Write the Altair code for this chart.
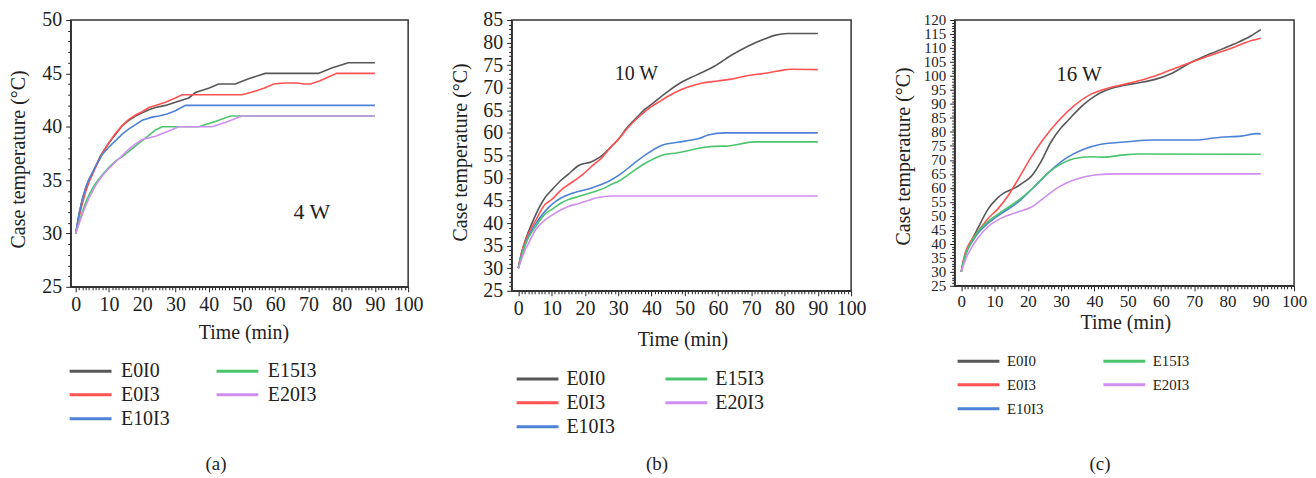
import altair as alt
import pandas as pd

FONT = "Liberation Serif"
TXT = "#222222"

LEGEND_ORDER = ["E0I0", "E0I3", "E10I3", "E15I3", "E20I3"]
LINE_COLORS = ["#575757", "#ff5252", "#4d82d6", "#4cc46e", "#cf8ef0"]
X_TITLE = "Time (min)"
Y_TITLE = "Case temperature (°C)"

# ---------------- panel (a): 4 W ----------------
A_E0I0_T = [0, 1, 2, 3, 4, 5, 6, 7.5, 10, 12, 14, 16, 18, 20, 22, 24, 27, 30, 34, 36, 40, 43, 48, 52, 57, 73, 77, 82, 90]
A_E0I0_V = [30, 31.8, 33.2, 34.2, 35.0, 35.6, 36.3, 37.3, 38.5, 39.3, 40.1, 40.6, 41.0, 41.3, 41.6, 41.8, 42.0, 42.3, 42.7, 43.2, 43.6, 44, 44, 44.5, 45, 45, 45.5, 46, 46]
A_E0I3_T = [0, 1, 2, 3, 4, 5, 6, 8, 10, 12, 14, 16, 18, 20, 22, 24, 27, 30, 32, 50, 52.6, 56.6, 59.6, 62.6, 66.6, 68.6, 70.6, 73.5, 78.5, 90]
A_E0I3_V = [30, 31.5, 32.8, 33.9, 34.8, 35.5, 36.2, 37.5, 38.5, 39.4, 40.1, 40.7, 41.1, 41.4, 41.8, 42.0, 42.3, 42.7, 43.0, 43.0, 43.2, 43.6, 44, 44.1, 44.1, 44, 44, 44.3, 45, 45]
A_E10I3_T = [0, 1, 2, 3, 4, 5, 6, 8, 10, 12, 14, 16, 18, 20, 23, 25, 27.5, 30, 33, 90]
A_E10I3_V = [30, 31.8, 33.2, 34.3, 35.1, 35.7, 36.3, 37.4, 38.1, 38.7, 39.3, 39.8, 40.2, 40.6, 40.9, 41.0, 41.2, 41.5, 42, 42]
A_E15I3_T = [0, 1, 2, 3, 4, 5, 6, 8, 10, 12, 14, 16, 18, 20, 22, 24, 26, 37, 42, 46.5, 90]
A_E15I3_V = [30, 31.0, 32.0, 32.9, 33.6, 34.2, 34.7, 35.5, 36.2, 36.8, 37.2, 37.7, 38.2, 38.7, 39.2, 39.7, 40, 40, 40.5, 41, 41]
A_E20I3_T = [0, 1, 2, 3, 4, 5, 6, 8, 10, 12, 14, 16, 18, 20, 24, 28, 31, 41, 45, 50, 90]
A_E20I3_V = [30, 30.9, 31.8, 32.6, 33.3, 33.9, 34.5, 35.4, 36.1, 36.7, 37.3, 37.9, 38.4, 38.8, 39.1, 39.6, 40, 40, 40.4, 41, 41]

# ---------------- panel (b): 10 W ----------------
B_E0I0_T = [0, 1, 2, 3, 5, 8, 10, 13, 15, 18, 22, 24.5, 28, 30, 32.5, 36, 38, 40, 43, 45, 49, 52, 55, 59, 64, 69, 74, 77, 81, 90]
B_E0I0_V = [30, 33.5, 36, 38, 41.5, 45.6, 47.3, 49.6, 50.8, 52.7, 53.6, 54.6, 57, 58.5, 61, 63.7, 65.2, 66.3, 68.1, 69.2, 71.2, 72.3, 73.3, 74.8, 77.2, 79.2, 80.8, 81.6, 82, 82]
B_E0I3_T = [0, 1, 2, 3, 5, 8, 10, 13, 15, 18, 20, 23, 25, 28, 30, 33, 36, 40, 43, 45, 49, 52, 55, 60, 64, 69, 74, 78, 82, 90]
B_E0I3_V = [30, 33.5, 35.8, 37.6, 40.3, 44.1, 45.2, 47.4, 48.5, 50.0, 51.2, 53.2, 54.4, 57.0, 58.5, 61.2, 63.4, 65.8, 67.2, 68.1, 69.6, 70.4, 71.0, 71.5, 71.9, 72.7, 73.2, 73.7, 74.1, 74]
B_E10I3_T = [0, 1, 2, 3, 5, 8, 10, 13, 15, 18, 22, 26, 28, 31, 34, 38, 43, 48, 52, 54, 57, 62, 90]
B_E10I3_V = [30, 33, 35.2, 37, 39.6, 42.6, 44.1, 45.6, 46.3, 47.0, 47.8, 48.9, 49.6, 51, 52.8, 55, 57.2, 57.9, 58.4, 58.7, 59.5, 60, 60]
B_E15I3_T = [0, 1, 2, 3, 5, 8, 10, 13, 15, 18, 23, 26, 28, 30, 33, 38, 43, 48, 52, 55, 59, 63, 71, 90]
B_E15I3_V = [30, 32.8, 35, 36.7, 39.0, 42.0, 43.0, 44.5, 45.2, 45.9, 47.0, 47.8, 48.6, 49.2, 50.7, 53.2, 55, 55.6, 56.2, 56.7, 57, 57.1, 58, 58]
B_E20I3_T = [0, 1, 2, 3, 5, 8, 10, 13, 15, 18, 21, 23, 26, 28, 90]
B_E20I3_V = [30, 32, 34, 35.4, 38.3, 40.7, 41.7, 43.0, 43.7, 44.3, 45, 45.5, 45.9, 46, 46]

# ---------------- panel (c): 16 W ----------------
C_E0I0_T = [0, 1, 2, 3, 5, 8, 11, 13, 15, 17, 19, 21, 24, 27, 30, 32, 35, 37, 40, 42, 45, 49, 53, 58, 63, 68, 75, 82, 87, 90]
C_E0I0_V = [30, 35.5, 38.6, 41, 45.6, 52.3, 56.5, 58.3, 59.4, 60.6, 62.2, 64.1, 69.5, 76.5, 81.5, 84, 87.8, 90, 92.7, 94.1, 95.5, 96.7, 97.5, 98.7, 100.8, 104.2, 108, 111.4, 114.3, 116.6]
C_E0I3_T = [0, 1, 2, 3, 5, 8, 11, 14, 17, 21, 25, 29, 34, 39, 44, 49, 53, 58, 63, 68, 75, 82, 87, 90]
C_E0I3_V = [30, 36, 39.2, 41.2, 44.4, 49, 52.5, 57.1, 62.9, 71, 77.9, 83.7, 89.5, 93.5, 95.6, 97, 98.2, 99.9, 102.2, 104.5, 107.4, 110.3, 112.6, 113.5]
C_E10I3_T = [0, 1, 2, 3, 5, 8, 12, 17, 22, 27, 32, 37, 42, 49, 58, 70, 78, 84, 89, 90]
C_E10I3_V = [30, 35, 38, 40.2, 43.8, 47.3, 50.8, 54.8, 60.5, 66.4, 71, 73.9, 75.6, 76.4, 77.1, 77.1, 78.1, 78.5, 79.4, 79.3]
C_E15I3_T = [0, 1, 2, 3, 5, 8, 12, 17, 22, 26, 30, 34, 39, 43, 49, 53, 90]
C_E15I3_V = [30, 35.3, 38.3, 40.6, 44.4, 47.9, 51.4, 55.4, 60.5, 65.2, 68.6, 70.5, 71.1, 71, 71.8, 72.1, 72]
C_E20I3_T = [0, 1, 2, 3, 5, 8, 12, 17, 21, 25, 29, 34, 40, 47, 90]
C_E20I3_V = [30, 33.5, 36.3, 38.5, 42.1, 46.1, 49.2, 51.4, 53.1, 56.6, 60.1, 62.9, 64.6, 65, 65]

ANNOT_LABELS = ["4 W", "10 W", "16 W"]
ANNOT_T = [71, 35.5, 35.4]
ANNOT_V = [32, 73, 100.2]
CAPTIONS = ["(a)", "(b)", "(c)"]


def frame(series):
    rows = []
    for name, ts, vs in series:
        for t, v in zip(ts, vs):
            rows.append({"t": t, "v": v, "series": name})
    return pd.DataFrame(rows)


def text_layer(label, px, py, size, angle=0):
    mark = alt.Chart(pd.DataFrame({"label": [label]})).mark_text(
        font=FONT, fontSize=size, color=TXT, angle=angle, baseline="middle", align="center"
    )
    return mark.encode(x=alt.value(px), y=alt.value(py), text="label:N")


def panel(df, idx, ymax, xmin, w, h, interp, lab_fs, ylab_fs, ann_fs,
          leg_x, leg_y, leg_fs, leg_off, leg_colpad, leg_rowpad, cap_y, xt_pos, yt_pos):
    xaxis = alt.Axis(
        values=list(range(0, 101)), tickCount=1000, format="d",
        labelExpr="datum.value % 10 === 0 ? datum.label : ''",
        tickSize={"condition": {"test": "datum.value % 10 === 0", "value": 5}, "value": 3},
        labelOverlap=False, labelFlush=False, grid=False, title=None,
        labelFont=FONT, labelFontSize=lab_fs, labelColor=TXT, labelPadding=3,
        domainColor="#333333", domainWidth=1.5, tickColor="#222222", tickWidth=1,
    )
    yaxis = alt.Axis(
        values=list(range(25, ymax + 1)), tickCount=1000, format="d",
        labelExpr="datum.value % 5 === 0 ? datum.label : ''",
        tickSize={"condition": {"test": "datum.value % 5 === 0", "value": 5}, "value": 3},
        labelOverlap=False, labelFlush=False, grid=False, title=None,
        labelFont=FONT, labelFontSize=ylab_fs, labelColor=TXT, labelPadding=4,
        domainColor="#333333", domainWidth=1.5, tickColor="#222222", tickWidth=1,
    )
    xs = alt.Scale(domain=[xmin, 100], nice=False, zero=False)
    ys = alt.Scale(domain=[25, ymax], nice=False, zero=False)
    lines = alt.Chart(df).mark_line(strokeWidth=1.6, interpolate=interp).encode(
        x=alt.X("t:Q", scale=xs, axis=xaxis),
        y=alt.Y("v:Q", scale=ys, axis=yaxis),
        color=alt.Color(
            "series:N",
            scale=alt.Scale(domain=LEGEND_ORDER, range=LINE_COLORS),
            legend=alt.Legend(
                orient="none", legendX=leg_x, legendY=leg_y, columns=2, title=None,
                symbolType="M-1,0H3.2", symbolSize=400, symbolStrokeWidth=3,
                labelFont=FONT, labelFontSize=leg_fs, labelColor=TXT, labelOffset=leg_off,
                columnPadding=leg_colpad, rowPadding=leg_rowpad, padding=0,
            ),
        ),
    )
    ann_df = pd.DataFrame({"t": [ANNOT_T[idx]], "v": [ANNOT_V[idx]], "label": [ANNOT_LABELS[idx]]})
    ann = alt.Chart(ann_df).mark_text(font=FONT, fontSize=ann_fs, color=TXT).encode(
        x=alt.X("t:Q", scale=xs, axis=xaxis),
        y=alt.Y("v:Q", scale=ys, axis=yaxis),
        text="label:N",
    )
    cap = text_layer(CAPTIONS[idx], 146, cap_y, 19)
    xt = text_layer(X_TITLE, xt_pos[0], xt_pos[1], 20)
    yt = text_layer(Y_TITLE, yt_pos[0], yt_pos[1], 20, angle=270)
    return alt.layer(lines, ann, cap, xt, yt).properties(width=w, height=h)


df_a = frame([("E0I0", A_E0I0_T, A_E0I0_V), ("E0I3", A_E0I3_T, A_E0I3_V), ("E10I3", A_E10I3_T, A_E10I3_V),
              ("E15I3", A_E15I3_T, A_E15I3_V), ("E20I3", A_E20I3_T, A_E20I3_V)])
df_b = frame([("E0I0", B_E0I0_T, B_E0I0_V), ("E0I3", B_E0I3_T, B_E0I3_V), ("E10I3", B_E10I3_T, B_E10I3_V),
              ("E15I3", B_E15I3_T, B_E15I3_V), ("E20I3", B_E20I3_T, B_E20I3_V)])
df_c = frame([("E0I0", C_E0I0_T, C_E0I0_V), ("E0I3", C_E0I3_T, C_E0I3_V), ("E10I3", C_E10I3_T, C_E10I3_V),
              ("E15I3", C_E15I3_T, C_E15I3_V), ("E20I3", C_E20I3_T, C_E20I3_V)])

pa = panel(df_a, 0, 50, -1.5, 339, 268, "linear", 20, 20, 22,
           -2.5, 341, 20, 30, 40.5, 2, 446, (174, 314), (-52, 140))
pb = panel(df_b, 1, 85, -2, 341, 272, "monotone", 20, 20, 20,
           3.5, 349, 20, 28.5, 43.5, 2, 446, (172, 321), (-51, 133))
pc = panel(df_c, 2, 120, -2, 341, 267, "monotone", 17, 15, 21,
           1.5, 331, 15, 28, 53.5, 4, 446, (172, 304), (-51, 137))

chart = alt.hconcat(pa, pb, pc, spacing=26).resolve_scale(
    x="independent", y="independent", color="independent"
).configure(font=FONT).configure_axis(labelFont=FONT).configure_view(
    stroke="#333333", strokeWidth=1.5
).properties(padding=0)

chart.save("out.html", embed_options={"renderer": "svg", "actions": False})
